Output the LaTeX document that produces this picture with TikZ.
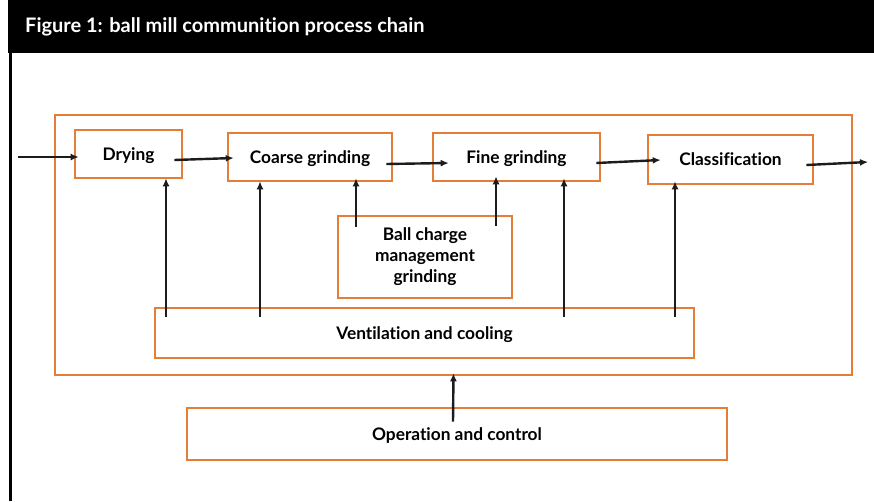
\documentclass[tikz,border=0pt]{standalone}
\usepackage{fontspec}
\setmainfont{Lato}[Ligatures=NoCommon]
\usetikzlibrary{arrows.meta}
\definecolor{boxorange}{RGB}{228,125,55}
\definecolor{inkdark}{RGB}{28,28,28}
\begin{document}
\begin{tikzpicture}[x=1pt,y=-1pt,
  stagebox/.style={draw=boxorange, line width=2.6pt, inner sep=0pt,
    font=\bfseries\fontsize{17.3}{21}\selectfont, align=center},
  oneline/.style={text depth=0pt},
  flow/.style={draw=inkdark, line width=2.4pt,
    -{Latex[length=8pt,width=7pt]}},
  titletext/.style={text=white, font=\bfseries\fontsize{20}{24}\selectfont,
    anchor=base west, inner sep=0pt}]
\useasboundingbox (0,0) rectangle (874,501);

% title bar and frame
\fill[black] (8,0) rectangle (874,53);
\draw[black, line width=3pt] (10.5,53) -- (10.5,501);
\node[titletext] (title) at (25,32) {Figure 1: ball mill communition process chain};

% enclosing mill system
\node[stagebox, minimum width=797pt, minimum height=260pt] (outer) at (453.5,245) {};

% process stages
\node[stagebox, oneline, minimum width=107pt, minimum height=48pt] (dry)    at (128.5,154) {Drying};
\node[stagebox, oneline, minimum width=164pt, minimum height=48pt] (coarse) at (310,157)   {Coarse grinding};
\node[stagebox, oneline, minimum width=167pt, minimum height=48pt] (fine)   at (516.5,157) {Fine grinding};
\node[stagebox, oneline, minimum width=165pt, minimum height=49pt] (class)  at (730.5,159.5) {Classification};
\node[stagebox, minimum width=174pt, minimum height=82pt] (ball)   at (425,257)   {Ball charge\\management\\grinding};
\node[stagebox, oneline, minimum width=539pt, minimum height=50pt] (vent)   at (424.5,333) {Ventilation and cooling};
\node[stagebox, oneline, minimum width=540pt, minimum height=52pt] (oper)   at (457,434)   {Operation and control};

% feed and product ends
\coordinate (feed) at (18,157);
\coordinate (product) at (868,162);

% main material flow
\draw[flow] (feed) -- ([xshift=5pt,yshift=-3pt]dry.west);
\draw[flow] ([xshift=-9pt,yshift=-6pt]dry.east) -- ([xshift=7pt,yshift=-1pt]coarse.west);
\draw[flow] ([xshift=-7pt,yshift=-7pt]coarse.east) -- ([xshift=17pt,yshift=-6pt]fine.west);
\draw[flow] ([xshift=-5pt,yshift=-6pt]fine.east) -- ([xshift=14pt,yshift=-0.5pt]class.west);
\draw[flow] ([xshift=-8pt,yshift=-5.5pt]class.east) -- (product);

% ventilation and cooling supply
\draw[flow] ([xshift=-258.5pt,yshift=-10pt]vent.north) -- ([xshift=37.5pt,yshift=1pt]dry.south);
\draw[flow] ([xshift=-164.5pt,yshift=-10pt]vent.north) -- ([xshift=-50pt,yshift=1pt]coarse.south);
\draw[flow] ([xshift=139.5pt,yshift=-10pt]vent.north) -- ([xshift=47.5pt,yshift=4pt]fine.south);
\draw[flow] ([xshift=250.5pt,yshift=-10pt]vent.north) -- ([xshift=-55.5pt,yshift=4pt]class.south);

% ball charge management
\draw[flow] ([xshift=-69pt,yshift=-12pt]ball.north) -- ([xshift=46pt,yshift=4pt]coarse.south);
\draw[flow] ([xshift=71pt,yshift=-11pt]ball.north) -- ([xshift=-20.5pt,yshift=6pt]fine.south);

% operation and control
\draw[flow] ([xshift=-4pt,yshift=-15pt]oper.north) -- ([yshift=3pt]outer.south);
\end{tikzpicture}
\end{document}
